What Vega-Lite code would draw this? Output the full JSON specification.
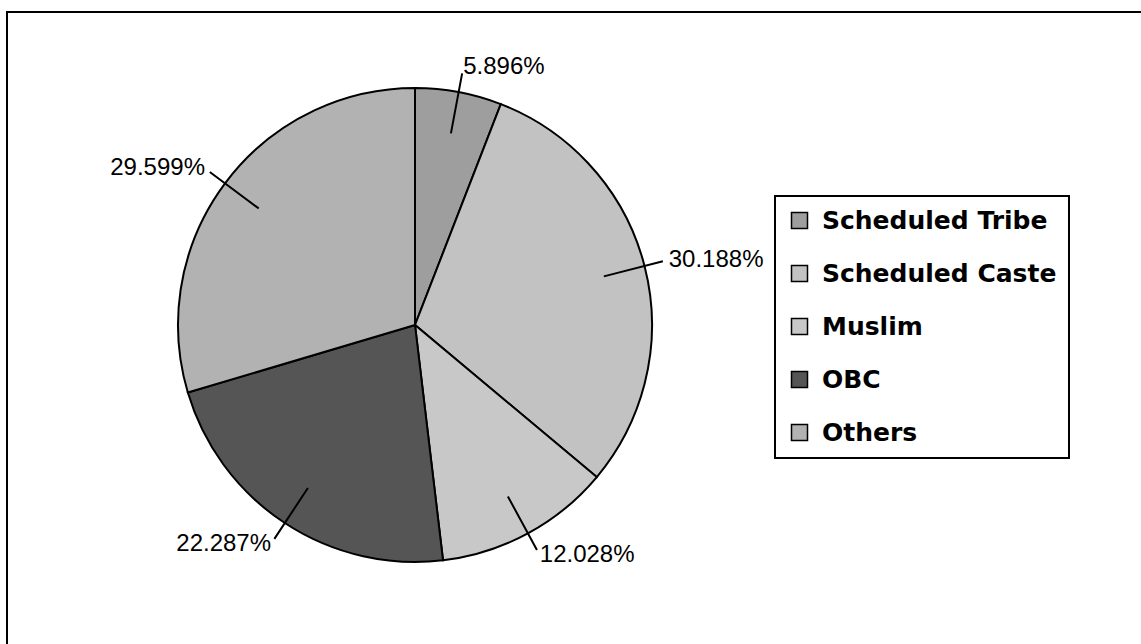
{
  "$schema": "https://vega.github.io/schema/vega-lite/v6.json",
  "width": 1150,
  "height": 640,
  "autosize": {"type": "none"},
  "padding": {"left": 7, "top": 12, "right": 0, "bottom": 0},
  "background": "white",
  "view": {"stroke": "black", "strokeWidth": 2},
  "data": {"values": [
    {"cat": "Scheduled Tribe", "share": 0.05896, "ord": 1},
    {"cat": "Scheduled Caste", "share": 0.30188, "ord": 2},
    {"cat": "Muslim", "share": 0.12028, "ord": 3},
    {"cat": "OBC", "share": 0.22287, "ord": 4},
    {"cat": "Others", "share": 0.29599, "ord": 5}
  ]},
  "layer": [
    {
      "mark": {"type": "arc", "radius": 237, "x": 408, "y": 313, "stroke": "black", "strokeWidth": 2},
      "encoding": {
        "theta": {"field": "share", "type": "quantitative", "stack": true},
        "order": {"field": "ord"},
        "color": {
          "field": "cat", "type": "nominal",
          "scale": {
            "domain": ["Scheduled Tribe", "Scheduled Caste", "Muslim", "OBC", "Others"],
            "range": ["#9e9e9e", "#c2c2c2", "#c8c8c8", "#555555", "#b2b2b2"]
          },
          "legend": {
            "title": null,
            "orient": "none",
            "legendX": 768,
            "legendY": 184,
            "strokeColor": "black",
            "padding": 12,
            "symbolType": "square",
            "symbolSize": 256,
            "symbolStrokeColor": "black",
            "symbolStrokeWidth": 1.5,
            "labelFont": "DejaVu Sans",
            "labelFontWeight": "bold",
            "labelFontSize": 25,
            "labelColor": "black",
            "labelOffset": 10,
            "labelLimit": 500,
            "rowPadding": 27,
            "encode": {"legend": {"update": {"strokeWidth": {"value": 2}}}}
          }
        }
      }
    },
    {
      "transform": [
        {"fold": ["share", "share"], "as": ["k", "v"]},
        {"window": [{"op": "sum", "field": "v", "as": "cum"}], "sort": [{"field": "ord"}], "frame": [null, 0], "ignorePeers": true},
        {"window": [{"op": "row_number", "as": "rn"}], "groupby": ["cat"], "sort": [{"field": "cum"}]},
        {"filter": "datum.rn == 1"}
      ],
      "mark": {"type": "arc", "radius": 256, "radius2": 195, "x": 408, "y": 313, "stroke": "black", "strokeWidth": 2, "fill": "transparent"},
      "encoding": {
        "theta": {"field": "cum", "type": "quantitative", "scale": {"domain": [0, 2]}},
        "theta2": {"field": "cum"}
      }
    },
    {
      "mark": {
        "type": "text", "radius": 262, "x": 408, "y": 313,
        "font": "Liberation Sans", "fontSize": 24, "color": "black",
        "align": {"expr": "datum.cat == 'OBC' || datum.cat == 'Others' ? 'right' : 'left'"},
        "baseline": "middle"
      },
      "encoding": {
        "theta": {"field": "share", "type": "quantitative", "stack": true},
        "order": {"field": "ord"},
        "text": {"field": "share", "type": "quantitative", "format": ".3%"}
      }
    }
  ],
  "resolve": {"scale": {"theta": "independent"}}
}
